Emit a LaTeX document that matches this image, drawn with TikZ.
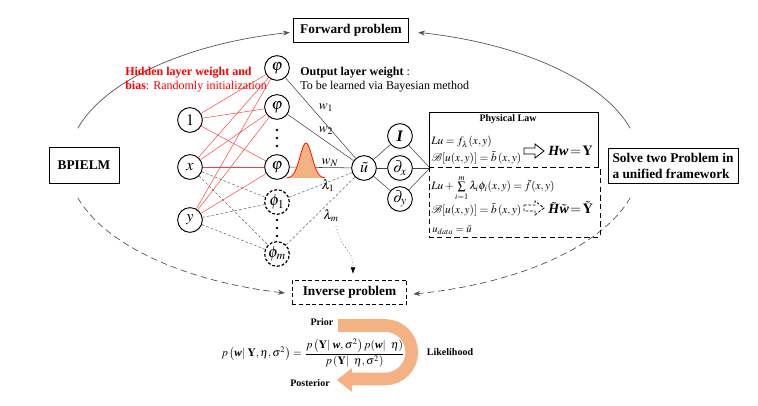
\documentclass[tikz,border=0pt]{standalone}
\usepackage{amsmath}
\usepackage{mathptmx}
\usepackage[no-math]{fontspec}
\setmainfont{Liberation Serif}
\usetikzlibrary{arrows.meta}
\definecolor{peach}{HTML}{F4B183}
\definecolor{redl}{HTML}{FF3B3B}
\definecolor{arcgray}{HTML}{505050}
\newcommand\bfit[1]{\textbf{\textit{#1}}}
\begin{document}
\begin{tikzpicture}[x=0.75pt,y=-0.75pt,font=\fontsize{9}{10.5}\selectfont,
  neuron/.style={circle,draw,line width=0.7pt,minimum size=18.5pt,inner sep=0pt,font=\fontsize{12}{12}\selectfont},
  dneuron/.style={neuron,line width=0.9pt,dash pattern=on 2.2pt off 1.4pt},
  probbox/.style={draw,line width=0.6pt,font=\bfseries\fontsize{10}{12}\selectfont,inner sep=2pt},
  redline/.style={redl,line width=0.35pt},
  grayd/.style={gray!80!black,line width=0.4pt,dash pattern=on 2pt off 1.5pt},
  outl/.style={black!75,line width=0.4pt},
  arcline/.style={arcgray,line width=0.5pt},
  arcdash/.style={arcgray,line width=0.5pt,dash pattern=on 5pt off 3pt},
  lbl/.style={font=\fontsize{10}{10}\selectfont,inner sep=0pt},
  smallb/.style={font=\bfseries\fontsize{7.5}{9}\selectfont,inner sep=0pt},
  eq/.style={anchor=west,inner sep=0pt,font=\fontsize{8.5}{10}\selectfont},
  bigeq/.style={anchor=west,inner sep=0pt,font=\fontsize{10.5}{12}\selectfont}]
\useasboundingbox (0,0) rectangle (758,406);

% problem boxes
\node[probbox,minimum width=86pt,minimum height=18.5pt] (fwd) at (351,30.5) {Forward problem};
\node[probbox,minimum width=52.5pt,minimum height=27pt] (bp) at (84,165) {BPIELM};
\node[probbox,minimum width=97.5pt,minimum height=26.25pt,align=left,inner sep=1pt] (solve) at (673,165.5) {Solve two Problem in\\a unified framework};
\node[probbox,dash pattern=on 3pt off 2pt,minimum width=86pt,minimum height=18pt] (inv) at (349.5,292) {Inverse problem};

% outer elliptical arcs
\draw[arcline,-{Stealth[length=5pt]}] (354,163) ++(195:286 and 134) arc[start angle=195,end angle=257,x radius=286,y radius=134];
\draw[arcline,{Stealth[length=5pt]}-] (354,163) ++(283:286 and 134) arc[start angle=283,end angle=345,x radius=286,y radius=134];
\draw[arcdash,-{Stealth[length=5pt]}] (354,163) ++(165:286 and 134) arc[start angle=165,end angle=104,x radius=286,y radius=134];
\draw[arcdash,-{Stealth[length=5pt]}] (354,163) ++(15:286 and 134) arc[start angle=15,end angle=78,x radius=286,y radius=134];

% input nodes
\node[neuron] (i1) at (190,120) {$1$};
\node[neuron] (ix) at (190,167) {$x$};
\node[neuron] (iy) at (190,220) {$y$};
% hidden nodes
\node[neuron] (h1) at (277,68) {$\varphi$};
\node[neuron] (h2) at (277,107) {$\varphi$};
\node[neuron] (h3) at (277,167) {$\varphi$};
\node[dneuron] (p1) at (277,202) {$\phi_1$};
\node[dneuron] (pm) at (277,254) {$\phi_m$};
\foreach \yy in {130,138,146,220,228,236} \fill (277,\yy) circle (1.3);
% output and derivative nodes
\node[neuron] (ut) at (364,168) {$\tilde u$};
\node[neuron] (dI) at (400,136) {$\bfit{I}$};
\node[neuron] (dx) at (400,168) {$\partial_x$};
\node[neuron] (dy) at (400,199) {$\partial_y$};
\coordinate (conv) at (430,168);

% connections
\foreach \s in {i1,ix,iy} \foreach \t in {h1,h2,h3} \draw[redline] (\s) -- (\t);
\foreach \s in {ix,iy} \foreach \t in {p1,pm} \draw[grayd] (\s) -- (\t);
\foreach \t in {h1,h2,h3} \draw[outl] (\t) -- (ut);
\foreach \t in {p1,pm} \draw[grayd] (\t) -- (ut);
\foreach \t in {dI,dx,dy} {\draw[outl] (ut) -- (\t); \draw[outl] (\t) -- (conv);}

% gaussian
\fill[peach] plot[domain=287:325,samples=40] (\x,{178-35*exp(-((\x-306)/8.5)*((\x-306)/8.5))}) -- cycle;
\draw[red!85!orange,line width=0.6pt] plot[domain=287:325,samples=40] (\x,{178-35*exp(-((\x-306)/8.5)*((\x-306)/8.5))});

% weight labels
\node[lbl] (w1) at (326,108) {$w_1$};
\node[lbl] (w2) at (326,131) {$w_2$};
\node[lbl] (wN) at (330,163) {$w_N$};
\node[lbl] (l1) at (328,186) {$\lambda_1$};
\node[lbl] (lm) at (331,216) {$\lambda_m$};

% texts
\node[anchor=west,text=red,align=left,inner sep=0pt] (hid) at (125,80) {\textbf{Hidden layer weight and}\\\textbf{bias}: Randomly initialization};
\node[anchor=west,align=left,inner sep=0pt] (outw) at (300,80) {\textbf{Output layer weight} :\\To be learned via Bayesian method};

% physical law box
\draw[line width=0.6pt] (429,167) -- (429,112) -- (598,112) -- (598,167);
\draw[line width=0.6pt,dash pattern=on 4pt off 2.5pt] (429,167) rectangle (600,237);
\node[smallb] (pl) at (508,119) {Physical Law};
\node[eq] (e1) at (431,142) {$Lu=f_{\lambda}(x,y)$};
\node[eq] (e2) at (431,158) {$\mathcal{B}[u(x,y)]=\bar{b}\,(x,y)$};
\node[eq] (e3) at (431,188) {$Lu+\sum\limits_{i=1}^{m}\lambda_i\phi_i(x,y)=\tilde{f}(x,y)$};
\node[eq] (e4) at (431,210) {$\mathcal{B}[u(x,y)]=\bar{b}\,(x,y)$};
\node[eq,font=\fontsize{8}{9}\selectfont] (e5) at (432,230) {$u_{data}=\bar{u}$};
\node[bigeq] (hw) at (548,151) {$\bfit{Hw}\,{=}\,\mathbf{Y}$};
\node[bigeq] (hwt) at (548,208) {$\tilde{\bfit{H}}\tilde{\bfit{w}}\,{=}\,\tilde{\mathbf{Y}}$};
\draw[line width=0.6pt] (524,148) -- (535,148) -- (535,144) -- (544,151) -- (535,158) -- (535,154) -- (524,154) -- cycle;
\draw[line width=0.6pt,dash pattern=on 2pt off 1.3pt] (524,205) -- (535,205) -- (535,201) -- (544,208) -- (535,215) -- (535,211) -- (524,211) -- cycle;

% dotted arrow to inverse problem
\coordinate (dstart) at (336,226);
\coordinate (dend) at (353,274);
\draw[black!70,line width=0.5pt,dotted,-{Latex[length=5pt,black]}] (dstart) .. controls (342,252) and (353,248) .. (dend);

% Bayesian formula and U-arrow
\draw[peach,line width=9.5pt] (338,325.5) -- (385,325.5) arc[start angle=-90,end angle=90,radius=26.75] -- (350,379);
\fill[peach] (337,380) -- (352,368) -- (352,392) -- cycle;
\node[smallb] (prior) at (322,322) {Prior};
\node[smallb] (post) at (310,383) {Posterior};
\node[smallb] (lik) at (450,352) {Likelihood};
\node[inner sep=0pt,font=\fontsize{8.5}{10}\selectfont] (bayes) at (313,353) {$p\left(\bfit{w}|\;\mathbf{Y},\eta,\sigma^2\right)=\dfrac{p\left(\mathbf{Y}|\;\bfit{w},\sigma^2\right)p(\bfit{w}|\;\;\eta)}{p\left(\mathbf{Y}|\;\;\eta,\sigma^2\right)}$};
\end{tikzpicture}
\end{document}
